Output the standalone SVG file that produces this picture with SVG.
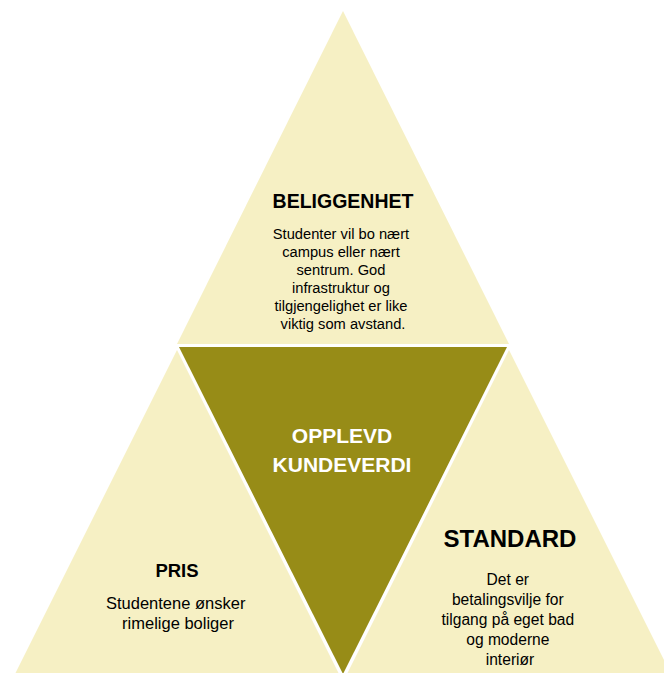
<svg xmlns="http://www.w3.org/2000/svg" width="664" height="673" viewBox="0 0 664 673">
<style>
.light{fill:#F6F0C4}
.dark{fill:#978C17}
text{font-family:"Liberation Sans",Arial,sans-serif;text-anchor:middle}
.title{font-weight:bold;fill:#000}
.body{fill:#000}
.center{font-weight:bold;fill:#fff;font-size:21px}
</style>
<rect width="664" height="673" fill="#fff"/>
<g id="beliggenhet">
<polygon class="light" points="343,11 177,344 509,344"/>
<text class="title" x="343" y="208" font-size="19.5">BELIGGENHET</text>
<text class="body" font-size="14.7">
<tspan x="343" y="239">Studenter vil bo nært</tspan>
<tspan x="343" y="257">campus eller nært</tspan>
<tspan x="343" y="275">sentrum. God</tspan>
<tspan x="343" y="293">infrastruktur og</tspan>
<tspan x="343" y="311">tilgjengelighet er like</tspan>
<tspan x="343" y="329">viktig som avstand.</tspan>
</text>
</g>
<g id="opplevd-kundeverdi">
<polygon class="dark" points="179,347 507,347 343,674"/>
<text class="center" x="342" y="443">OPPLEVD</text>
<text class="center" x="342" y="472">KUNDEVERDI</text>
</g>
<g id="pris">
<polygon class="light" points="177,350 341,678 13,678"/>
<text class="title" x="177" y="577" font-size="18.5">PRIS</text>
<text class="body" font-size="16.5">
<tspan x="178" y="609">Studentene ønsker</tspan>
<tspan x="178" y="629">rimelige boliger</tspan>
</text>
</g>
<g id="standard">
<polygon class="light" points="509,350 673,678 345,678"/>
<text class="title" x="510" y="547" font-size="24">STANDARD</text>
<text class="body" font-size="15.6">
<tspan x="510" y="585">Det er</tspan>
<tspan x="510" y="605">betalingsvilje for</tspan>
<tspan x="510" y="625">tilgang på eget bad</tspan>
<tspan x="510" y="645">og moderne</tspan>
<tspan x="510" y="665">interiør</tspan>
</text>
</g>
<g id="connectors"/>
</svg>
